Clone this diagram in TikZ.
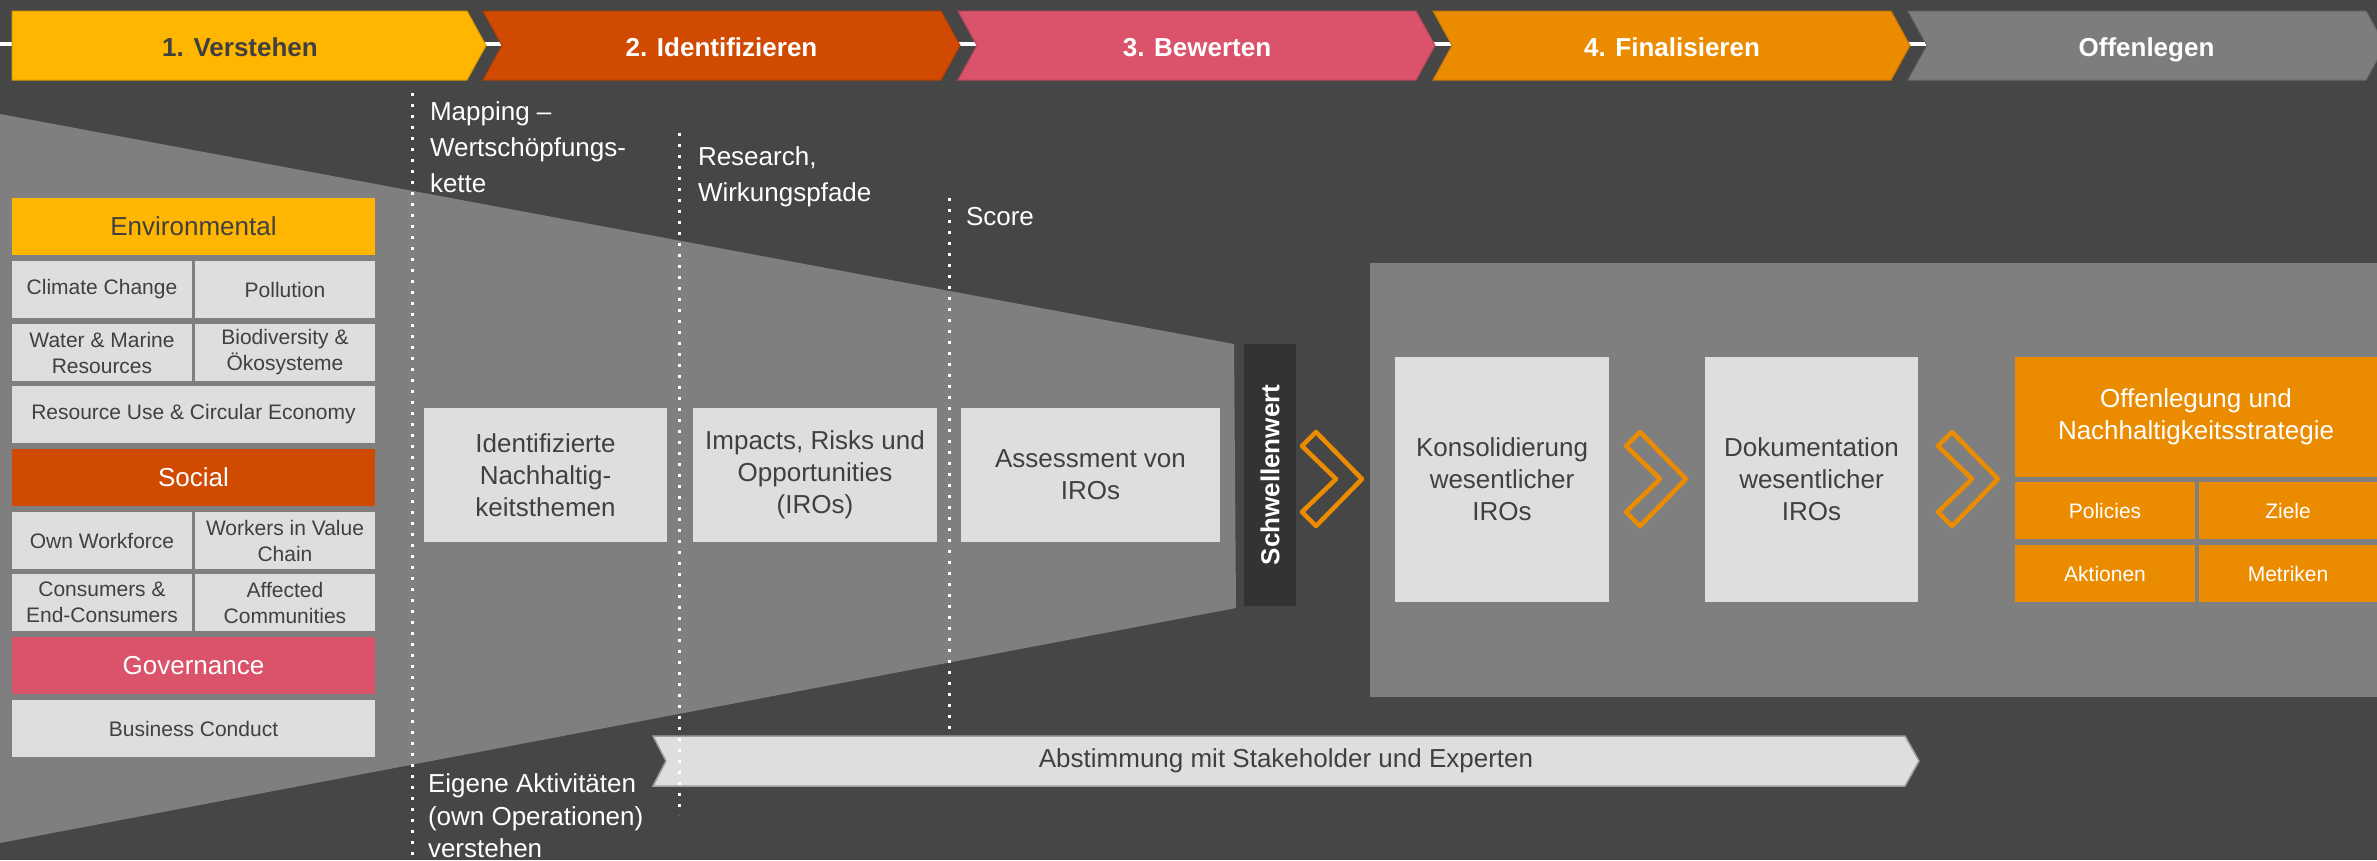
\documentclass[tikz,border=0pt]{standalone}
\usepackage{fontspec}
\setmainfont{Liberation Sans}

\definecolor{bgdark}{HTML}{464646}
\definecolor{midgray}{HTML}{7F7F7F}
\definecolor{lightbox}{HTML}{DEDEDE}
\definecolor{txtdark}{HTML}{404040}
\definecolor{pyellow}{HTML}{FFB600}
\definecolor{porange}{HTML}{D04A02}
\definecolor{prose}{HTML}{DB536A}
\definecolor{ptangerine}{HTML}{EB8C00}
\definecolor{pgrey}{HTML}{7D7D7D}
\definecolor{barblack}{HTML}{333333}

\begin{document}
\begin{tikzpicture}[x=1pt,y=-1pt,
  every node/.style={inner sep=0pt, outer sep=0pt},
  phasetext/.style={font=\bfseries\fontsize{26}{30}\selectfont, text=white, anchor=base},
  topic/.style={fill=lightbox, text=txtdark, align=center, font=\fontsize{21}{26}\selectfont, minimum height=57pt},
  half/.style={topic, minimum width=180pt},
  full/.style={topic, minimum width=363pt},
  pillar/.style={minimum width=363pt, minimum height=57pt, font=\fontsize{26}{30}\selectfont, text=white},
  stepbox/.style={fill=lightbox, text=txtdark, align=center, font=\fontsize{26}{32}\selectfont},
  note/.style={text=white, align=left, anchor=north west, font=\fontsize{26}{36}\selectfont},
  guide/.style={white, line width=3pt, dash pattern=on 3pt off 8pt},
  arrowicon/.style={draw=ptangerine, line width=4.5pt, line join=round},
  outbox/.style={fill=ptangerine, text=white, font=\fontsize{21}{26}\selectfont, minimum height=57pt}
]
\useasboundingbox (0,0) rectangle (2377,860);
\clip (0,0) rectangle (2377,860);

% canvas
\fill[bgdark] (0,0) rectangle (2377,860);

% phase bar: white rail behind the chevrons
\draw[white, line width=4pt] (0,44) -- (2377,44);
\fill[pyellow, draw=pyellow!85!black, line width=1pt] (12,11) -- (467,11) -- (486,45.5) -- (467,80) -- (12,80) -- cycle;
\foreach \L/\c in {483/porange, 958/prose, 1433/ptangerine, 1908/pgrey}
  \fill[\c, draw=\c!85!black, line width=1pt] (\L,11) -- ++(458,0) -- ++(19,34.5) -- ++(-19,34.5) -- ++(-458,0) -- ++(19,-34.5) -- cycle;
\node[phasetext, text=txtdark] (p1) at (240,56) {1. Verstehen};
\node[phasetext] (p2) at (721.5,56) {2. Identifizieren};
\node[phasetext] (p3) at (1197,56) {3. Bewerten};
\node[phasetext] (p4) at (1672,56) {4. Finalisieren};
\node[phasetext] (p5) at (2146.5,56) {Offenlegen};

% funnel and right panel
\fill[midgray] (0,114) -- (1234,344) -- (1236,608) -- (0,843) -- cycle;
\fill[midgray] (1370,263) rectangle (2400,697);

% dotted guides
\draw[guide] (412,93) -- (412,860);
\draw[guide] (949,198) -- (949,736);

% guide labels
\node[note] (mapping) at (430,102) {Mapping –\\Wertschöpfungs-\\kette};
\node[note] (research) at (698,147) {Research,\\Wirkungspfade};
\node[note] (score) at (966,207) {Score};
\node[note, font=\fontsize{26}{32.5}\selectfont] (own) at (428,774) {Eigene Aktivitäten\\(own Operationen)\\verstehen};

% ESG topics
\node[pillar, fill=pyellow, text=txtdark] (env) at (193.5,226.5) {Environmental};
\node[half] (climate) at (102,289.5) {Climate Change};
\node[half] (pollution) at (285,289.5) {Pollution};
\node[half] (water) at (102,352.5) {Water \& Marine\\Resources};
\node[half] (bio) at (285,352.5) {Biodiversity \&\\Ökosysteme};
\node[full] (resource) at (193.5,414.5) {Resource Use \& Circular Economy};
\node[pillar, fill=porange] (social) at (193.5,477.5) {Social};
\node[half] (workforce) at (102,540.5) {Own Workforce};
\node[half] (valuechain) at (285,540.5) {Workers in Value\\Chain};
\node[half] (consumers) at (102,602.5) {Consumers \&\\End-Consumers};
\node[half] (communities) at (285,602.5) {Affected\\Communities};
\node[pillar, fill=prose] (gov) at (193.5,665.5) {Governance};
\node[full] (conduct) at (193.5,728.5) {Business Conduct};

% funnel steps
\node[stepbox, minimum width=243pt, minimum height=134pt] (themes) at (545.5,475) {Identifizierte\\Nachhaltig-\\keitsthemen};
\node[stepbox, minimum width=244pt, minimum height=134pt] (iros) at (815,475) {Impacts, Risks und\\Opportunities\\(IROs)};
\node[stepbox, minimum width=259pt, minimum height=134pt] (assess) at (1090.5,475) {Assessment von\\IROs};

% threshold
\node[fill=barblack, minimum width=52pt, minimum height=262pt] (thr) at (1270,475) {};
\node[rotate=90, text=white, font=\bfseries\fontsize{26}{30}\selectfont] (thrlabel) at (thr.center) {Schwellenwert};

% finalising steps
\node[stepbox, minimum width=214pt, minimum height=245pt] (consol) at (1502,479.5) {Konsolidierung\\wesentlicher\\IROs};
\node[stepbox, minimum width=213pt, minimum height=245pt] (docu) at (1811.5,479.5) {Dokumentation\\wesentlicher\\IROs};
\node[fill=ptangerine, text=white, align=center, font=\fontsize{26}{32}\selectfont, minimum width=362pt, minimum height=120pt] (disclosure) at (2196,417) {Offenlegung und\\Nachhaltigkeitsstrategie};
\node[outbox, minimum width=180pt] (policies) at (2105,510.5) {Policies};
\node[outbox, minimum width=178pt] (goals) at (2288,510.5) {Ziele};
\node[outbox, minimum width=180pt] (actions) at (2105,573.5) {Aktionen};
\node[outbox, minimum width=178pt] (metrics) at (2288,573.5) {Metriken};

% outlined chevron arrows
\foreach \cx in {1300,1624,1936}
  \draw[arrowicon, shift={(\cx,479)}] (2,-33) -- (16,-47) -- (62,0) -- (16,47) -- (2,33) -- (36,0) -- cycle;

% stakeholder consultation band
\fill[lightbox, draw=gray!75, line width=1.5pt] (653,736) -- (1905,736) -- (1919,761) -- (1905,786) -- (653,786) -- (666,761) -- cycle;
\node[text=txtdark, font=\fontsize{26}{30}\selectfont] (consult) at (1286,761) {Abstimmung mit Stakeholder und Experten};
\draw[guide] (679,133) -- (679,815);
\end{tikzpicture}
\end{document}
